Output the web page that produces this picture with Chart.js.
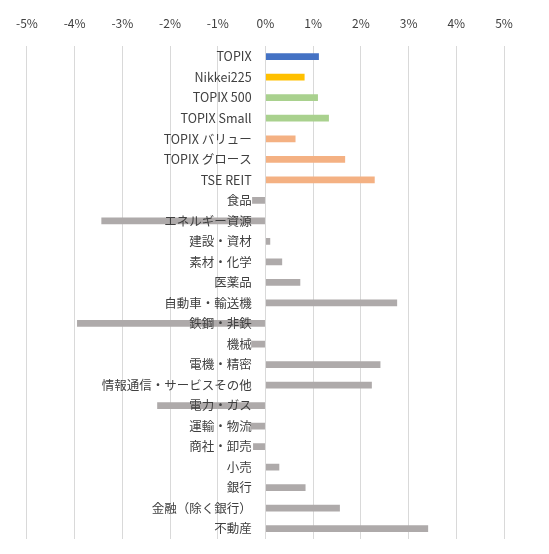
<!DOCTYPE html>
<html lang="ja">
<head>
    <meta charset="UTF-8">
    <title>騰落率</title>
    <style>
        body { margin: 0; background: #fff; }
        #wrap { width: 549px; height: 554px; }
    </style>
    <script src="https://cdn.jsdelivr.net/npm/chart.js"></script>
</head>
<body>
    <div id="wrap"><canvas id="chart" width="549" height="554"></canvas></div>

    <script>
        const categories = [
            'TOPIX', 'Nikkei225', 'TOPIX 500', 'TOPIX Small', 'TOPIX バリュー', 'TOPIX グロース', 'TSE REIT',
            '食品', 'エネルギー資源', '建設・資材', '素材・化学', '医薬品', '自動車・輸送機', '鉄鋼・非鉄',
            '機械', '電機・精密', '情報通信・サービスその他', '電力・ガス', '運輸・物流', '商社・卸売',
            '小売', '銀行', '金融（除く銀行）', '不動産'
        ];
        const returns = [
            1.12, 0.82, 1.10, 1.33, 0.63, 1.67, 2.29,
            -0.28, -3.44, 0.10, 0.35, 0.73, 2.76, -3.95,
            -0.30, 2.41, 2.23, -2.27, -0.32, -0.26,
            0.29, 0.84, 1.56, 3.41
        ];
        const barColors = [
            '#4472C4', '#FFC000', '#A9D18E', '#A9D18E', '#F4B183', '#F4B183', '#F4B183',
            '#AEAAAA', '#AEAAAA', '#AEAAAA', '#AEAAAA', '#AEAAAA', '#AEAAAA', '#AEAAAA',
            '#AEAAAA', '#AEAAAA', '#AEAAAA', '#AEAAAA', '#AEAAAA', '#AEAAAA',
            '#AEAAAA', '#AEAAAA', '#AEAAAA', '#AEAAAA'
        ];
        const xMin = -5;
        const xMax = 5;

        Chart.defaults.font.family = '"Noto Sans CJK JP", "Noto Sans", sans-serif';
        Chart.defaults.font.size = 12;
        Chart.defaults.color = '#404040';

        const ctx = document.getElementById('chart').getContext('2d');
        new Chart(ctx, {
            type: 'bar',
            data: {
                labels: categories,
                datasets: [{
                    data: returns,
                    backgroundColor: barColors,
                    barPercentage: 0.33,
                    categoryPercentage: 1.0,
                }],
            },
            options: {
                indexAxis: 'y',
                responsive: false,
                animation: false,
                layout: { padding: { left: 21, right: 45, top: 0, bottom: 15 } },
                plugins: {
                    legend: { display: false },
                    tooltip: { enabled: false },
                },
                scales: {
                    x: {
                        position: 'top',
                        min: xMin,
                        max: xMax,
                        grid: { color: '#D9D9D9', drawTicks: false },
                        border: { display: false },
                        ticks: {
                            stepSize: 1,
                            padding: 16,
                            color: '#404040',
                            callback: (v) => v + '%',
                        },
                    },
                    y: {
                        // labels sit just left of the zero line, like the original
                        position: { x: -0.29 },
                        grid: { display: false, drawTicks: false },
                        border: { display: false },
                        ticks: {
                            z: 1,
                            autoSkip: false,
                            color: '#404040',
                            font: { size: 12.5 },
                        },
                    },
                },
            },
        });
    </script>
</body>
</html>
